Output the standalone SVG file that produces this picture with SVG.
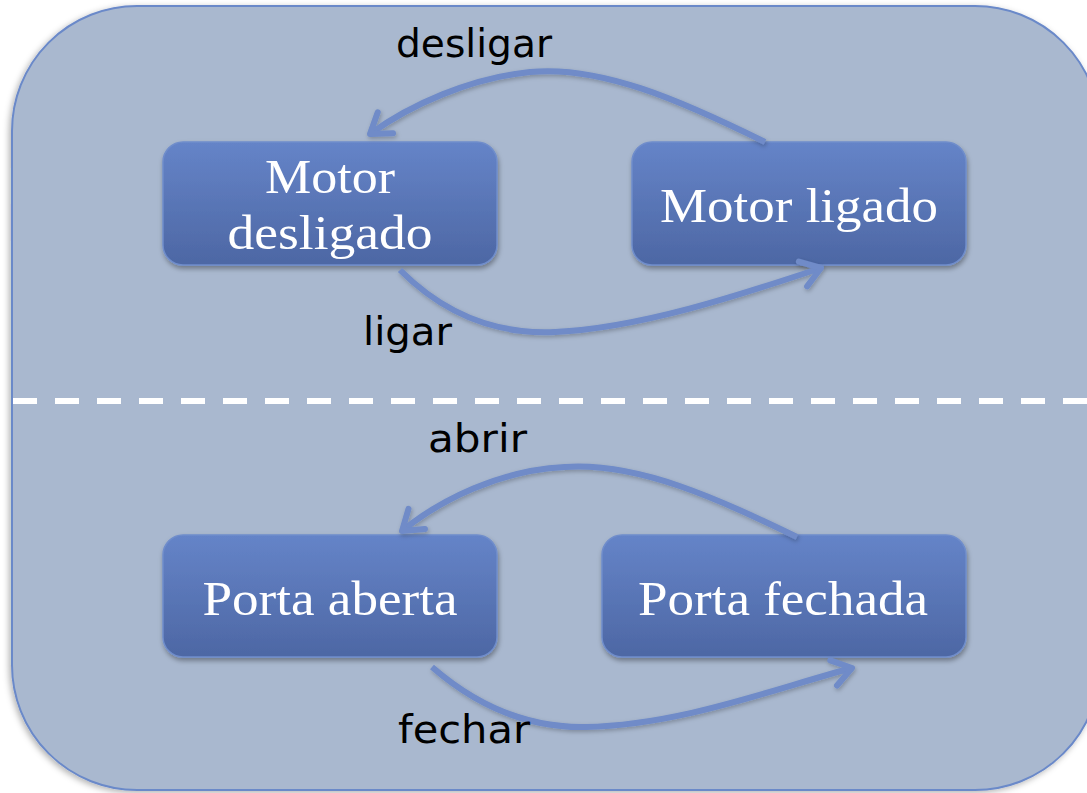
<svg xmlns="http://www.w3.org/2000/svg" width="1087" height="793" viewBox="0 0 1087 793">
<defs>
<style>
.node rect{fill:url(#ng);stroke:#6F8DCB;stroke-width:1.5;filter:url(#sh)}
.node text{font-family:"Liberation Serif","Times New Roman",serif;font-size:48px;fill:#ffffff;text-anchor:middle}
.lbl{font-family:"DejaVu Sans",sans-serif;font-size:39px;fill:#000000}
.conn path{fill:none;stroke:#6F8BC8;stroke-width:6;marker-end:url(#ah);filter:url(#sh2)}
</style>
<linearGradient id="ng" x1="0" y1="0" x2="0" y2="1">
<stop offset="0" stop-color="#6584C8"/>
<stop offset="1" stop-color="#4D67A4"/>
</linearGradient>
<filter id="sh" x="-10%" y="-10%" width="120%" height="130%">
<feDropShadow dx="1" dy="3" stdDeviation="2.5" flood-color="#000" flood-opacity="0.35"/>
</filter>
<filter id="sh2" x="-10%" y="-20%" width="120%" height="140%">
<feDropShadow dx="1" dy="2" stdDeviation="2" flood-color="#000" flood-opacity="0.25"/>
</filter>
<filter id="sh3" x="-5%" y="-5%" width="110%" height="110%">
<feDropShadow dx="-2" dy="2" stdDeviation="3" flood-color="#000" flood-opacity="0.3"/>
</filter>
<marker id="ah" markerUnits="userSpaceOnUse" viewBox="-28 -20 34 40" markerWidth="34" markerHeight="40" refX="0" refY="0" orient="auto">
<path d="M-19,-13 L0,0 L-19,13" fill="none" stroke="#6F8BC8" stroke-width="6" stroke-linecap="round" stroke-linejoin="round"/>
</marker>
</defs>
<rect x="0" y="0" width="1087" height="793" fill="#ffffff"/>
<rect id="frame" x="12" y="6" width="1088" height="784" rx="125" ry="125" fill="#A9B8CF" stroke="#6A89C9" stroke-width="2" filter="url(#sh3)"/>
<line id="divider" x1="13" y1="401" x2="1087" y2="401" stroke="#ffffff" stroke-width="6" stroke-dasharray="24 18"/>
<g id="n-motor-desligado" class="node">
<rect x="163" y="142" width="334" height="123" rx="20" ry="20"/>
<text x="330" y="193" textLength="130" lengthAdjust="spacingAndGlyphs">Motor</text>
<text x="330" y="249" textLength="205" lengthAdjust="spacingAndGlyphs">desligado</text>
</g>
<g id="n-motor-ligado" class="node">
<rect x="632" y="142" width="334" height="123" rx="20" ry="20"/>
<text x="799" y="222" textLength="278" lengthAdjust="spacingAndGlyphs">Motor ligado</text>
</g>
<g id="n-porta-aberta" class="node">
<rect x="163" y="535" width="334" height="122" rx="20" ry="20"/>
<text x="330" y="615" textLength="255" lengthAdjust="spacingAndGlyphs">Porta aberta</text>
</g>
<g id="n-porta-fechada" class="node">
<rect x="602" y="535" width="364" height="122" rx="20" ry="20"/>
<text x="783" y="615" textLength="290" lengthAdjust="spacingAndGlyphs">Porta fechada</text>
</g>
<g id="connectors" class="conn">
<path d="M765,142 C680,100 600,65 530,72 C470,78 410,105 370,134"/>
<path d="M400,270 C440,310 490,335 555,332 C640,328 740,295 821,268"/>
<path d="M797,537 C720,500 640,462 565,467 C500,470 440,500 402,531"/>
<path d="M432,667 C470,700 520,728 585,727 C680,725 770,690 852,668"/>
</g>
<g id="labels">
<text class="lbl" x="396" y="57" textLength="156" lengthAdjust="spacingAndGlyphs">desligar</text>
<text class="lbl" x="363" y="345" textLength="89" lengthAdjust="spacingAndGlyphs">ligar</text>
<text class="lbl" x="428" y="452" textLength="99" lengthAdjust="spacingAndGlyphs">abrir</text>
<text class="lbl" x="398" y="743" textLength="132" lengthAdjust="spacingAndGlyphs">fechar</text>
</g>
</svg>
